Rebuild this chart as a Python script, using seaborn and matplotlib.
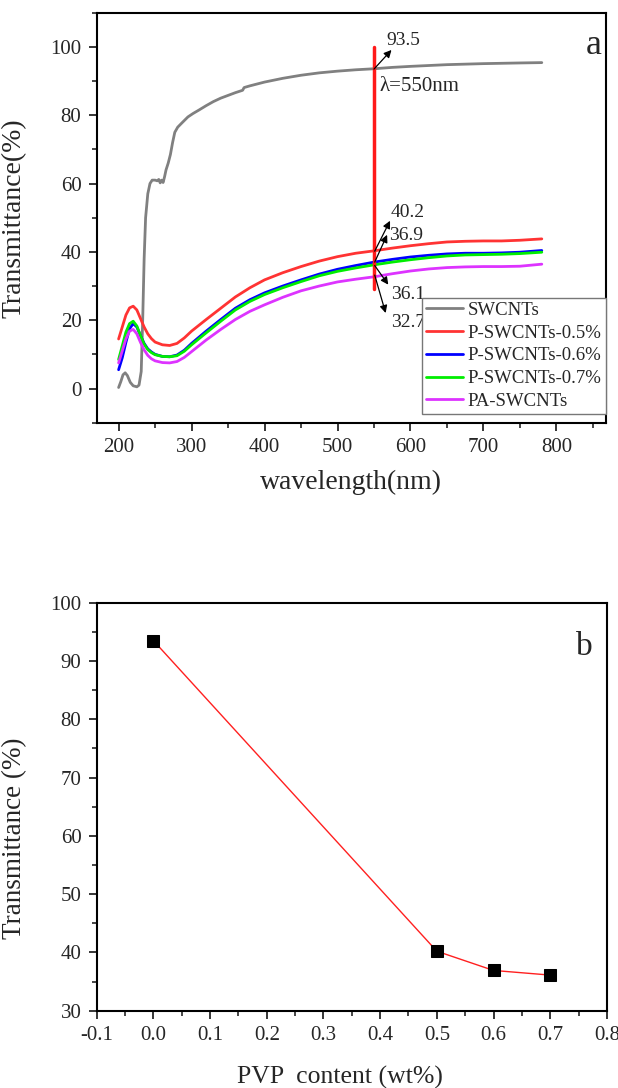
import matplotlib
matplotlib.use("Agg")
import matplotlib.pyplot as plt
import seaborn as sns
import numpy as np
import pandas as pd
from matplotlib.ticker import MultipleLocator

# ---- panel a: UV-vis transmittance spectra ----
swcnt_wl = [200, 203, 206, 209, 212, 216, 220, 225, 228, 231, 233, 235, 237, 240,
            243, 246, 250, 253, 255, 257, 259, 261, 263, 265, 268, 271, 274, 277,
            281, 287, 295, 302, 310, 320, 330, 340, 350, 360, 370, 372, 380, 400,
            425, 450, 475, 500, 525, 550, 575, 600, 650, 700, 750, 780]
swcnt_t = [0.3, 2.0, 4.0, 4.6, 3.8, 1.8, 0.8, 0.5, 1.0, 5.0, 20.0, 38.0, 50.0, 57.0,
           60.0, 61.0, 61.0, 60.8, 61.2, 60.2, 61.0, 60.3, 62.0, 64.0, 66.0, 68.5, 72.0, 75.0,
           76.5, 77.8, 79.5, 80.5, 81.5, 82.8, 84.0, 85.0, 85.8, 86.6, 87.3, 88.1, 88.6, 89.7,
           90.8, 91.7, 92.4, 92.9, 93.3, 93.6, 94.0, 94.3, 94.8, 95.1, 95.3, 95.4]

wl = [200, 205, 210, 215, 220, 225, 230, 235, 240, 245, 250, 260, 270, 280, 290,
      300, 320, 340, 360, 380, 400, 425, 450, 475, 500, 525, 550, 575, 600, 625,
      650, 675, 700, 725, 750, 780]
p05_t = [14.5, 18.0, 21.5, 23.6, 24.1, 23.0, 20.5, 18.0, 16.0, 14.6, 13.6, 12.8, 12.6,
         13.2, 14.8, 16.8, 20.2, 23.5, 26.8, 29.5, 31.8, 33.9, 35.7, 37.3, 38.6, 39.6,
         40.3, 41.1, 41.8, 42.4, 42.9, 43.1, 43.2, 43.2, 43.4, 43.8]
p06_t = [5.5, 9.0, 13.5, 17.5, 19.0, 18.0, 15.5, 13.2, 11.6, 10.7, 10.0, 9.4, 9.3,
         9.8, 11.2, 13.2, 16.8, 20.2, 23.5, 26.0, 28.0, 30.0, 31.8, 33.5, 34.9, 36.0,
         37.0, 37.8, 38.5, 39.0, 39.4, 39.6, 39.6, 39.7, 39.9, 40.4]
p07_t = [8.5, 12.5, 16.5, 19.0, 19.7, 18.3, 15.5, 13.0, 11.4, 10.5, 9.9, 9.4, 9.3,
         9.6, 10.9, 12.8, 16.3, 19.7, 23.0, 25.5, 27.5, 29.5, 31.3, 33.0, 34.3, 35.3,
         36.2, 37.0, 37.7, 38.3, 38.8, 39.1, 39.2, 39.3, 39.5, 39.9]
pa_t = [7.5, 11.0, 14.5, 16.8, 17.3, 16.0, 13.5, 11.3, 9.7, 8.7, 8.1, 7.6, 7.5,
        7.9, 9.1, 10.8, 14.2, 17.3, 20.2, 22.6, 24.5, 26.7, 28.6, 30.0, 31.2, 32.0,
        32.7, 33.6, 34.4, 35.0, 35.4, 35.6, 35.7, 35.7, 35.8, 36.4]

samples = ["SWCNTs", "P-SWCNTs-0.5%", "P-SWCNTs-0.6%", "P-SWCNTs-0.7%", "PA-SWCNTs"]
colors = ["#808080", "#ff3333", "#0000ff", "#00ee00", "#dd33ff"]

# values at 550 nm, marked with arrows
mark_values = ["93.5", "40.2", "36.9", "36.1", "32.7"]

# ---- panel b: transmittance at 550 nm vs PVP content ----
pvp_content = [0.0, 0.5, 0.6, 0.7]
pvp_trans = [93.5, 40.2, 36.9, 36.1]

spectra = pd.concat([
    pd.DataFrame({"wl": swcnt_wl, "T": swcnt_t, "sample": samples[0]}),
    pd.DataFrame({"wl": wl, "T": p05_t, "sample": samples[1]}),
    pd.DataFrame({"wl": wl, "T": p06_t, "sample": samples[2]}),
    pd.DataFrame({"wl": wl, "T": p07_t, "sample": samples[3]}),
    pd.DataFrame({"wl": wl, "T": pa_t, "sample": samples[4]}),
], ignore_index=True)
pvp_df = pd.DataFrame({"content": pvp_content, "T": pvp_trans})

sns.set_style("ticks")
plt.rcParams["font.family"] = ["Liberation Serif", "DejaVu Serif"]

fig = plt.figure(figsize=(6.18, 10.88), dpi=100)
ax1 = fig.add_axes([0.1565, 0.6115, 0.8241, 0.3768])
ax2 = fig.add_axes([0.1565, 0.0711, 0.8255, 0.3749])


def style_axes(ax):
    for s in ax.spines.values():
        s.set_linewidth(1.5)
        s.set_color("black")
    ax.tick_params(which="major", direction="out", length=6, width=1.3,
                   labelsize=15, top=False, right=False, pad=5)
    ax.tick_params(which="minor", direction="out", length=3.5, width=1.2,
                   top=False, right=False)


sns.lineplot(data=spectra, x="wl", y="T", hue="sample", hue_order=samples,
             palette=colors, linewidth=2, sort=False, estimator=None, ax=ax1)
ax1.set_xlim(170, 868)
ax1.set_ylim(-10, 110)
ax1.xaxis.set_major_locator(MultipleLocator(100))
ax1.xaxis.set_minor_locator(MultipleLocator(50))
ax1.set_yticks([0, 20, 40, 60, 80, 100])
ax1.yaxis.set_minor_locator(MultipleLocator(10))
style_axes(ax1)
ax1.set_xlabel("wavelength(nm)", fontsize=20)
ax1.set_ylabel("Transmittance(%)", fontsize=20)
ax1.xaxis.set_label_coords(0.5, -0.115)
ax1.yaxis.set_label_coords(-0.137, 0.5)

ax1.plot([550, 550], [29, 100], color="#ff1a1a", lw=2.5, zorder=5)
ax1.text(557, 88.4, "λ=550nm", fontsize=15, va="center", ha="left")
ax1.text(862, 100.5, "a", fontsize=26, va="center", ha="right")

arrow = dict(arrowstyle="-|>", color="black", lw=0.9, mutation_scale=11,
             shrinkA=0, shrinkB=0)
starts = [(550, 93.5), (551, 40.2), (551, 37.0), (551, 36.0), (551, 33.2)]
heads = [(574, 99.1), (572, 49.1), (568, 45.0), (569.6, 30.4), (566, 22.1)]
texts = [(567, 101.8), (573, 51.5), (570, 44.7), (574, 27.5), (573, 19.2)]
for lab, s0, h0, t0 in zip(mark_values, starts, heads, texts):
    ax1.annotate("", xy=h0, xytext=s0, arrowprops=arrow, zorder=6)
    ax1.text(t0[0], t0[1], lab, fontsize=14, va="center", ha="left")

leg = ax1.legend(loc="lower right", bbox_to_anchor=(0.999, 0.022),
                 fontsize=13.5, frameon=True, fancybox=False, framealpha=1,
                 edgecolor="#777777", handlelength=2.0, handletextpad=0.25,
                 labelspacing=0.3, borderpad=0.2, borderaxespad=0)
leg.get_frame().set_linewidth(1.0)
for h in leg.get_lines():
    h.set_linewidth(2)

sns.lineplot(data=pvp_df, x="content", y="T", color="#ff2020", linewidth=1,
             marker="s", markersize=8.5, markerfacecolor="black",
             markeredgecolor="black", ax=ax2)
ax2.set_xlim(-0.1, 0.8)
ax2.set_ylim(30, 100)
ax2.xaxis.set_major_locator(MultipleLocator(0.1))
ax2.xaxis.set_minor_locator(MultipleLocator(0.05))
ax2.yaxis.set_major_locator(MultipleLocator(10))
ax2.yaxis.set_minor_locator(MultipleLocator(5))
ax2.set_xticklabels([f"{v:.1f}" for v in ax2.get_xticks()])
style_axes(ax2)
ax2.set_xlabel("PVP  content (wt%)", fontsize=18.5)
ax2.set_ylabel("Transmittance (%)", fontsize=19.5)
ax2.xaxis.set_label_coords(0.477, -0.135)
ax2.yaxis.set_label_coords(-0.137, 0.423)
ax2.text(0.775, 92.5, "b", fontsize=24, va="center", ha="right")

fig.savefig("out.png", dpi=100)
